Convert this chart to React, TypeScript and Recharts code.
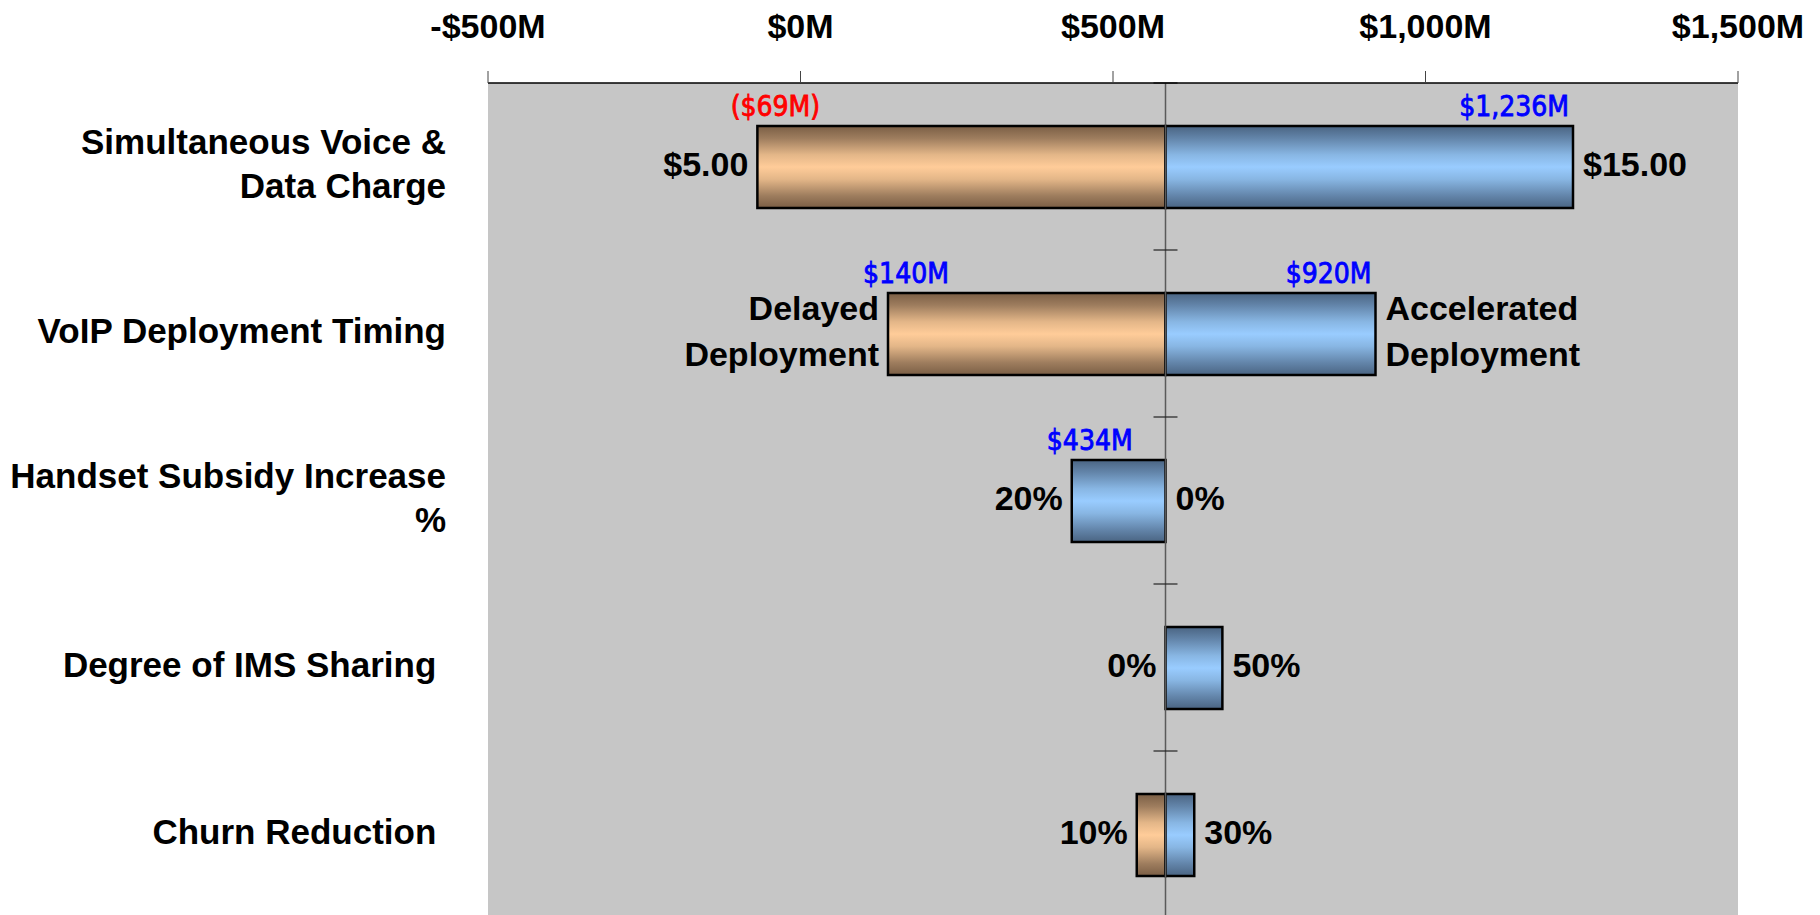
import React from "react";
import { BarChart, Bar, XAxis, YAxis, CartesianGrid, ReferenceLine } from "recharts";

// ---------- data ----------
const categories = [
  "Simultaneous Voice & Data Charge",
  "VoIP Deployment Timing",
  "Handset Subsidy Increase %",
  "Degree of IMS Sharing",
  "Churn Reduction",
];
const categoryLines: string[][] = [
  ["Simultaneous Voice &", "Data Charge"],
  ["VoIP Deployment Timing"],
  ["Handset Subsidy Increase", "%"],
  ["Degree of IMS Sharing "],
  ["Churn Reduction "],
];
const baseValue = 584; // $M, base case NPV
const lowInputResults: (number | null)[] = [-69, 140, null, null, 538];
const highInputResults: number[] = [1236, 920, 434, 675, 630];
const leftInputLabels: string[][] = [["$5.00"], ["Delayed", "Deployment"], ["20%"], ["0%"], ["10%"]];
const rightInputLabels: string[][] = [["$15.00"], ["Accelerated", "Deployment"], ["0%"], ["50%"], ["30%"]];
const leftResultLabels = ["($69M)", "$140M", "$434M", "", ""];
const rightResultLabels = ["$1,236M", "$920M", "", "", ""];
const leftResultValues = [-69, 140, 434, null, null];
const xTicks = [-500, 0, 500, 1000, 1500];

const data = categories.map((name, i) => {
  const low = lowInputResults[i];
  const high = highInputResults[i];
  const ends = [baseValue, high, ...(low == null ? [] : [low])];
  return {
    name,
    idx: i,
    orange: low == null ? null : [Math.min(low, baseValue), Math.max(low, baseValue)],
    blue: [Math.min(high, baseValue), Math.max(high, baseValue)],
    span: [Math.min(...ends), Math.max(...ends)],
  };
});

// ---------- styles ----------
const ARIAL = "'Liberation Sans', Arial, Helvetica, sans-serif";
const VALUE_FONT = "'DejaVu Sans Condensed', 'Open Sans', sans-serif";

const formatTick = (v: number) =>
  (v < 0 ? "-" : "") + "$" + Math.abs(v).toLocaleString("en-US") + "M";

const XTick = (props: any) => {
  const { x, y, payload } = props;
  return (
    <text x={x} y={y} textAnchor="middle" fontFamily={ARIAL} fontWeight="bold" fontSize={34} fill="#000">
      {formatTick(payload.value)}
    </text>
  );
};

const YTick = (props: any) => {
  const { x, y, index } = props;
  const lines = categoryLines[index] || [];
  const n = lines.length;
  return (
    <text textAnchor="end" fontFamily={ARIAL} fontWeight="bold" fontSize={35} fill="#000" style={{ whiteSpace: "pre" }}>
      {lines.map((l, i) => (
        <tspan key={i} x={x} y={y + 9 + (i - (n - 1) / 2) * 44}>
          {l}
        </tspan>
      ))}
    </text>
  );
};

const GradBar = (fillId: string, key: "orange" | "blue") => (props: any) => {
  const { x, y, width, height, payload } = props;
  if (!payload || payload[key] == null) return <g />;
  const w = Math.abs(width);
  const xx = width < 0 ? x + width : x;
  if (!(w > 0)) return <g />;
  return <rect x={xx} y={y} width={w} height={height} fill={`url(#${fillId})`} stroke="#000" strokeWidth={2.5} />;
};

const SpanShape = (props: any) => {
  const { x, y, width, height, payload } = props;
  if (!payload) return <g />;
  const i = payload.idx;
  const left = Math.min(x, x + width);
  const right = Math.max(x, x + width);
  const cy = y + height / 2;
  const lt = leftInputLabels[i];
  const rt = rightInputLabels[i];
  const lineY = (k: number, n: number) => cy + 9 + (k - (n - 1) / 2) * 46;
  const lv = leftResultValues[i];
  const leftColor = lv != null && lv < 0 ? "#FF0000" : "#0000FF";
  return (
    <g>
      <text textAnchor="end" fontFamily={ARIAL} fontWeight="bold" fontSize={34} fill="#000">
        {lt.map((l, k) => (
          <tspan key={k} x={left - 9} y={lineY(k, lt.length)}>
            {l}
          </tspan>
        ))}
      </text>
      <text textAnchor="start" fontFamily={ARIAL} fontWeight="bold" fontSize={34} fill="#000">
        {rt.map((l, k) => (
          <tspan key={k} x={right + 10} y={lineY(k, rt.length)}>
            {l}
          </tspan>
        ))}
      </text>
      {leftResultLabels[i] ? (
        <text x={left + 18} y={y - 10} textAnchor="middle" fontFamily={VALUE_FONT} fontSize={28}
          fill={leftColor} stroke={leftColor} strokeWidth={0.8}>
          {leftResultLabels[i]}
        </text>
      ) : null}
      {rightResultLabels[i] ? (
        <text x={right - 4} y={y - 10} textAnchor="end" fontFamily={VALUE_FONT} fontSize={28}
          fill="#0000FF" stroke="#0000FF" strokeWidth={0.8}>
          {rightResultLabels[i]}
        </text>
      ) : null}
    </g>
  );
};

const BandTick = (p: any) => (
  <line x1={p.x1 - 12} x2={p.x1 + 12} y1={p.y1} y2={p.y1} stroke="#222" strokeWidth={1.2} />
);

export default function App() {
  return (
    <div style={{ position: "fixed", left: 0, top: 0, width: 1820, height: 915, overflow: "hidden", background: "#fff" }}>
      <svg width={0} height={0} style={{ position: "absolute" }}>
        <defs>
          <linearGradient id="gOrange" x1="0" y1="0" x2="0" y2="1">
            <stop offset="0" stopColor="#7a5e45" />
            <stop offset="0.15" stopColor="#9e7d5e" />
            <stop offset="0.35" stopColor="#e3b688" />
            <stop offset="0.5" stopColor="#ffcc99" />
            <stop offset="0.65" stopColor="#e3b688" />
            <stop offset="0.85" stopColor="#9e7d5e" />
            <stop offset="1" stopColor="#7a5e45" />
          </linearGradient>
          <linearGradient id="gBlue" x1="0" y1="0" x2="0" y2="1">
            <stop offset="0" stopColor="#4a6482" />
            <stop offset="0.15" stopColor="#6385aa" />
            <stop offset="0.35" stopColor="#88b6e3" />
            <stop offset="0.5" stopColor="#99ccff" />
            <stop offset="0.65" stopColor="#88b6e3" />
            <stop offset="0.85" stopColor="#6385aa" />
            <stop offset="1" stopColor="#4a6482" />
          </linearGradient>
        </defs>
      </svg>
      <BarChart
        width={1820}
        height={918}
        data={data}
        layout="vertical"
        margin={{ top: 0, right: 82, bottom: 0, left: 0 }}
        barGap={-82}
        barSize={82}
      >
        <CartesianGrid fill="#C6C6C6" horizontal={false} vertical={false} stroke="none" />
        <XAxis
          type="number"
          orientation="top"
          domain={[-500, 1500]}
          ticks={xTicks}
          height={83}
          tickSize={12}
          tickMargin={33}
          axisLine={{ stroke: "#000", strokeWidth: 1.5 }}
          tickLine={{ stroke: "#444", strokeWidth: 1 }}
          tick={<XTick />}
          allowDataOverflow
        />
        <YAxis
          type="category"
          dataKey="name"
          width={488}
          axisLine={false}
          tickLine={false}
          tickSize={0}
          tickMargin={42}
          tick={<YTick />}
          interval={0}
        />
        <ReferenceLine x={baseValue} stroke="#5a5a5a" strokeWidth={1.5} />
        {categories.map((c) => (
          <ReferenceLine
            key={c}
            segment={[{ x: baseValue, y: c }, { x: baseValue, y: c }]}
            position="start"
            shape={BandTick}
            ifOverflow="visible"
          />
        ))}
        <Bar dataKey="orange" isAnimationActive={false} shape={GradBar("gOrange", "orange")} />
        <Bar dataKey="blue" isAnimationActive={false} shape={GradBar("gBlue", "blue")} />
        <Bar dataKey="span" isAnimationActive={false} fill="none" shape={SpanShape} />
      </BarChart>
    </div>
  );
}
